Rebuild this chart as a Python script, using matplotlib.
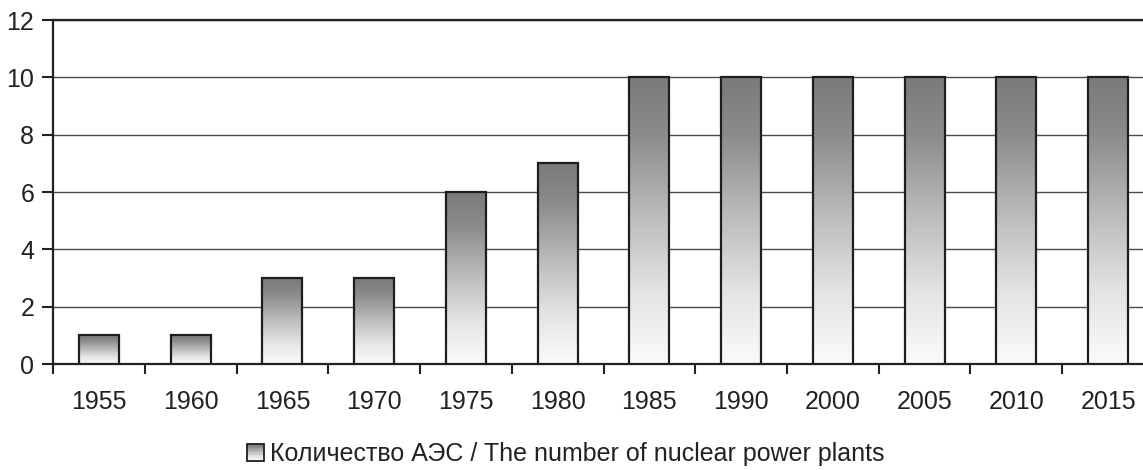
import numpy as np
import matplotlib
matplotlib.use("Agg")
import matplotlib.pyplot as plt
from matplotlib.colors import LinearSegmentedColormap
from matplotlib.legend_handler import HandlerBase
from matplotlib.patches import Rectangle

years = ["1955", "1960", "1965", "1970", "1975", "1980",
         "1985", "1990", "2000", "2005", "2010", "2015"]
plants = [1, 1, 3, 3, 6, 7, 10, 10, 10, 10, 10, 10]
y_ticks = [0, 2, 4, 6, 8, 10, 12]
legend_label = "Количество АЭС / The number of nuclear power plants"

plt.rcParams["font.family"] = ["Liberation Sans", "DejaVu Sans"]
text_color = "#222222"

# grey-to-white fill used inside each bar (top = dark, bottom = light)
shade = LinearSegmentedColormap.from_list(
    "shade",
    [(0.0, "#7a7a7a"), (0.2, "#8c8c8c"), (0.5, "#bebebe"),
     (0.75, "#e4e4e4"), (1.0, "#fbfbfb")])

fig = plt.figure(figsize=(11.43, 4.70), dpi=100)
ax = fig.add_axes([0.0464, 0.2255, 0.9632, 0.7319])

x = np.arange(len(years))
bars = ax.bar(x, plants, width=0.436, facecolor="none",
              edgecolor="#1e1e1e", linewidth=1.6, zorder=4)

grad = np.linspace(0, 1, 256).reshape(-1, 1)
for b in bars:
    x0, w, h = b.get_x(), b.get_width(), b.get_height()
    ax.imshow(grad, cmap=shade, aspect="auto", origin="upper",
              extent=(x0, x0 + w, 0, h), zorder=3, interpolation="bilinear")

ax.set_xlim(-0.5, len(years) - 0.5)
ax.set_ylim(0, 12)

ax.set_yticks(y_ticks)
ax.set_yticklabels([str(v) for v in y_ticks])
ax.yaxis.grid(True, color="#4a4a4a", linewidth=1.0, zorder=1)
ax.set_axisbelow(True)

# category boundaries carry the tick marks, centres carry the labels
ax.set_xticks(np.arange(-0.5, len(years) + 0.5, 1.0))
ax.set_xticklabels([])
ax.set_xticks(x, minor=True)
ax.set_xticklabels(years, minor=True)
ax.tick_params(axis="x", which="major", length=7, width=1.5, color="#222222")
ax.tick_params(axis="x", which="minor", length=0, pad=19,
               labelsize=18, labelcolor=text_color)
ax.tick_params(axis="y", length=8, width=1.5, color="#222222", pad=5.5,
               labelsize=18, labelcolor=text_color)

for side in ("left", "bottom", "top"):
    ax.spines[side].set_color("#222222")
    ax.spines[side].set_linewidth(1.6)
ax.spines["right"].set_visible(False)


class GradientSquare(HandlerBase):
    def create_artists(self, legend, orig_handle, xdescent, ydescent,
                       width, height, fontsize, trans):
        size = height * 0.95
        x0 = xdescent + width - size
        y0 = -ydescent + (height - size) / 2
        n = 12
        artists = []
        for i in range(n):
            c = shade((i + 0.5) / n)
            r = Rectangle((x0, y0 + size * (n - 1 - i) / n), size, size / n,
                          facecolor=c, edgecolor="none", transform=trans)
            artists.append(r)
        artists.append(Rectangle((x0, y0), size, size, facecolor="none",
                                 edgecolor="#1e1e1e", linewidth=1.3,
                                 transform=trans))
        return artists


proxy = Rectangle((0, 0), 1, 1)
leg = fig.legend([proxy], [legend_label], loc="center",
                 bbox_to_anchor=(0.494, 0.034), frameon=False,
                 handler_map={Rectangle: GradientSquare()},
                 handlelength=0.75, handletextpad=0.25, fontsize=18)
for t in leg.get_texts():
    t.set_color(text_color)

fig.savefig("out.png", dpi=100)
